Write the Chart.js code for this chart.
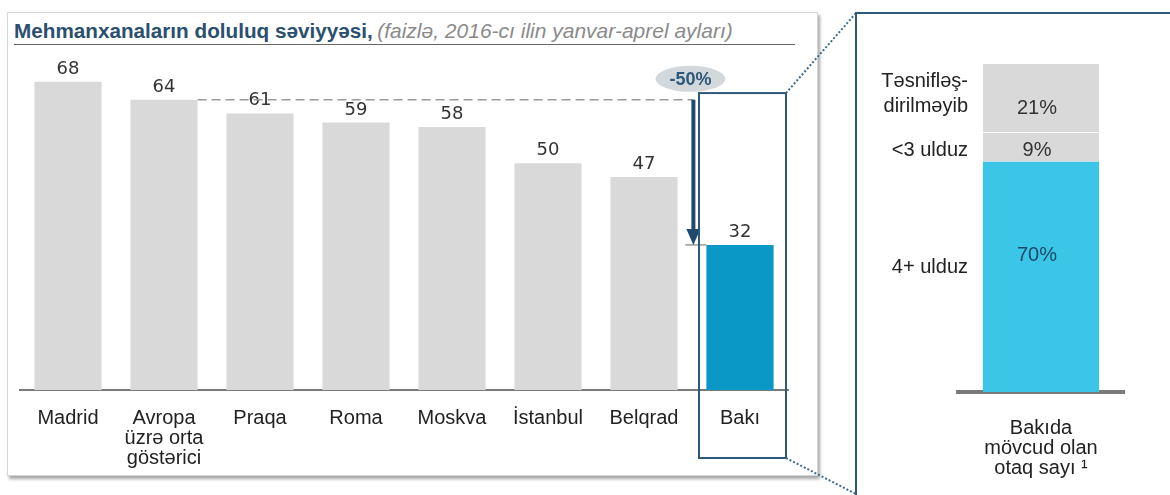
<!DOCTYPE html>
<html>
<head>
<meta charset="utf-8">
<script src="https://cdn.jsdelivr.net/npm/chart.js@4"></script>
<style>
  body { margin: 0; width: 1170px; height: 495px; background: #fff; position: relative; overflow: hidden; font-family: "Liberation Sans", Arial, sans-serif; }
  #panel { position: absolute; left: 7px; top: 12px; width: 809px; height: 462px; border: 1px solid #d6d6d6; box-shadow: 2px 3px 3px rgba(0,0,0,0.35); background: #fff; }
  #title { position: absolute; left: 14px; top: 18px; width: 781px; height: 26px; line-height: 26px; border-bottom: 1px solid #666; white-space: nowrap; }
  #title b { color: #2a4f6f; font-size: 20.7px; }
  #title i { color: #8a8a8a; font-size: 21px; }
  #main { position: absolute; left: 0; top: 0; }
  #side { position: absolute; left: 855px; top: 12px; width: 330px; height: 500px; border: 2px solid #2e5877; }
  #sideChart { position: absolute; left: 857px; top: 14px; }
</style>
</head>
<body>
<div id="panel"></div>
<div id="title"><b>Mehmanxanaların doluluq səviyyəsi,</b> <i>(faizlə, 2016-cı ilin yanvar-aprel ayları)</i></div>
<div id="side"></div>
<canvas id="main" width="1170" height="495"></canvas>
<canvas id="sideChart" width="313" height="481"></canvas>
<script>
const cities = ['Madrid', ['Avropa', 'üzrə orta', 'göstərici'], 'Praqa', 'Roma', 'Moskva', 'İstanbul', 'Belqrad', 'Bakı'];
const occupancy = [68, 64, 61, 59, 58, 50, 47, 32];
const dropLabel = '-50%';

const roomGroups = ['4+ ulduz', '<3 ulduz', ['Təsnifləş-', 'dirilməyib']];
const roomShares = [70, 9, 21];
const roomCategory = [['Bakıda', 'mövcud olan', 'otaq sayı ¹']];

const grey = '#d9d9d9';
const navy = '#2e5877';
// top-left corner of the side box, page coordinates
const sideBox = { x: 856, yTop: 13, yBottom: 494 };

const mainDecor = {
  id: 'mainDecor',
  afterDatasetsDraw(chart) {
    const { ctx, scales: { y } } = chart;
    const bars = chart.getDatasetMeta(0).data;
    ctx.save();

    // values above the bars
    ctx.font = '18px "DejaVu Sans"';
    ctx.fillStyle = '#333';
    ctx.textAlign = 'center';
    ctx.textBaseline = 'alphabetic';
    bars.forEach((b, i) => ctx.fillText(occupancy[i], b.x, b.y - 8));

    const avg = bars[1];
    const baku = bars[bars.length - 1];
    const yAvg = y.getPixelForValue(occupancy[1]);
    const yBaku = y.getPixelForValue(occupancy[occupancy.length - 1]);
    const ax = baku.x - baku.width / 2 - 13;

    // dashed reference line from the European average
    ctx.strokeStyle = '#9a9a9a';
    ctx.lineWidth = 1.5;
    ctx.setLineDash([9, 5]);
    ctx.beginPath();
    ctx.moveTo(avg.x + avg.width / 2, yAvg);
    ctx.lineTo(ax, yAvg);
    ctx.stroke();
    ctx.setLineDash([]);

    // small tick at Baku level
    ctx.strokeStyle = '#666';
    ctx.lineWidth = 1;
    ctx.beginPath();
    ctx.moveTo(ax - 8, yBaku);
    ctx.lineTo(baku.x - baku.width / 2, yBaku);
    ctx.stroke();

    // drop arrow
    ctx.strokeStyle = '#1f4a6e';
    ctx.fillStyle = '#1f4a6e';
    ctx.lineWidth = 4;
    ctx.beginPath();
    ctx.moveTo(ax, yAvg);
    ctx.lineTo(ax, yBaku - 14);
    ctx.stroke();
    ctx.beginPath();
    ctx.moveTo(ax - 7, yBaku - 16);
    ctx.lineTo(ax + 7, yBaku - 16);
    ctx.lineTo(ax, yBaku);
    ctx.closePath();
    ctx.fill();

    // -50% bubble
    ctx.fillStyle = '#d3d8dd';
    ctx.beginPath();
    ctx.ellipse(ax - 3, yAvg - 21, 35, 13, 0, 0, Math.PI * 2);
    ctx.fill();
    ctx.fillStyle = navy;
    ctx.font = 'bold 18px "Liberation Sans"';
    ctx.textBaseline = 'middle';
    ctx.fillText(dropLabel, ax - 3, yAvg - 20);

    // frame around Baku
    const left = baku.x - 41, right = baku.x + 46;
    const top = y.getPixelForValue(65.5), bottom = chart.chartArea.bottom + 68;
    ctx.strokeStyle = navy;
    ctx.lineWidth = 2;
    ctx.strokeRect(left, top, right - left, bottom - top);

    // dotted connectors to the side box
    ctx.strokeStyle = '#3f6b8a';
    ctx.setLineDash([2, 2]);
    ctx.beginPath();
    ctx.moveTo(right, top);
    ctx.lineTo(sideBox.x, sideBox.yTop);
    ctx.moveTo(right, bottom);
    ctx.lineTo(sideBox.x, sideBox.yBottom);
    ctx.stroke();
    ctx.restore();
  }
};

new Chart(document.getElementById('main'), {
  type: 'bar',
  data: {
    labels: cities,
    datasets: [{
      data: occupancy,
      backgroundColor: occupancy.map((v, i) => i === occupancy.length - 1 ? '#0a98c6' : grey),
      barPercentage: 0.7,
      categoryPercentage: 1
    }]
  },
  options: {
    responsive: false,
    animation: false,
    layout: { padding: { left: 20, right: 382, top: 50, bottom: 0 } },
    plugins: { legend: { display: false }, tooltip: { enabled: false } },
    scales: {
      x: {
        grid: { display: false, drawTicks: false },
        border: { display: true, color: '#7a7a7a', width: 2 },
        ticks: { color: '#222', padding: 18, font: { family: 'Liberation Sans', size: 20, lineHeight: 1 }, maxRotation: 0, autoSkip: false },
        afterFit(scale) { scale.height = 105; }
      },
      y: { display: false, min: 0, max: 75 }
    }
  },
  plugins: [mainDecor]
});

const sideDecor = {
  id: 'sideDecor',
  afterDatasetsDraw(chart) {
    const { ctx } = chart;
    ctx.save();
    ctx.textBaseline = 'middle';
    // offsets of group names and shares from each segment's middle
    const nameShift = [-9.5, 3.5, -4];
    const valueShift = [-21.5, 3.5, 10.5];
    const valueColor = ['#1d4a6a', '#333', '#333'];
    roomShares.forEach((v, i) => {
      const seg = chart.getDatasetMeta(i).data[0];
      const mid = (seg.y + seg.base) / 2;
      ctx.font = '20px "Liberation Sans"';
      ctx.fillStyle = '#222';
      ctx.textAlign = 'right';
      const name = [].concat(roomGroups[i]);
      name.forEach((line, k) => {
        ctx.fillText(line, 111, mid + nameShift[i] + (k - (name.length - 1) / 2) * 25);
      });
      ctx.textAlign = 'center';
      ctx.fillStyle = valueColor[i];
      ctx.fillText(v + '%', seg.x - 4, mid + valueShift[i]);
    });
    ctx.restore();
  }
};

new Chart(document.getElementById('sideChart'), {
  type: 'bar',
  data: {
    labels: roomCategory,
    datasets: roomShares.map((v, i) => ({
      data: [v],
      backgroundColor: i === 0 ? '#3bc6e8' : grey,
      borderColor: '#fff',
      borderWidth: { top: i === 0 ? 0 : 1, left: 0, right: 0, bottom: 0 },
      borderSkipped: false,
      barPercentage: 0.7,
      categoryPercentage: 1
    }))
  },
  options: {
    responsive: false,
    animation: false,
    layout: { padding: { left: 101, right: 46, top: 49, bottom: 0 } },
    plugins: { legend: { display: false }, tooltip: { enabled: false } },
    scales: {
      x: {
        stacked: true,
        grid: { display: false, drawTicks: false },
        border: { display: true, color: '#7a7a7a', width: 4 },
        ticks: { color: '#222', padding: 26, font: { family: 'Liberation Sans', size: 20, lineHeight: 1 }, maxRotation: 0 },
        afterFit(scale) { scale.height = 103; }
      },
      y: { display: false, stacked: true, min: 0, max: 100 }
    }
  },
  plugins: [sideDecor]
});
</script>
</body>
</html>
